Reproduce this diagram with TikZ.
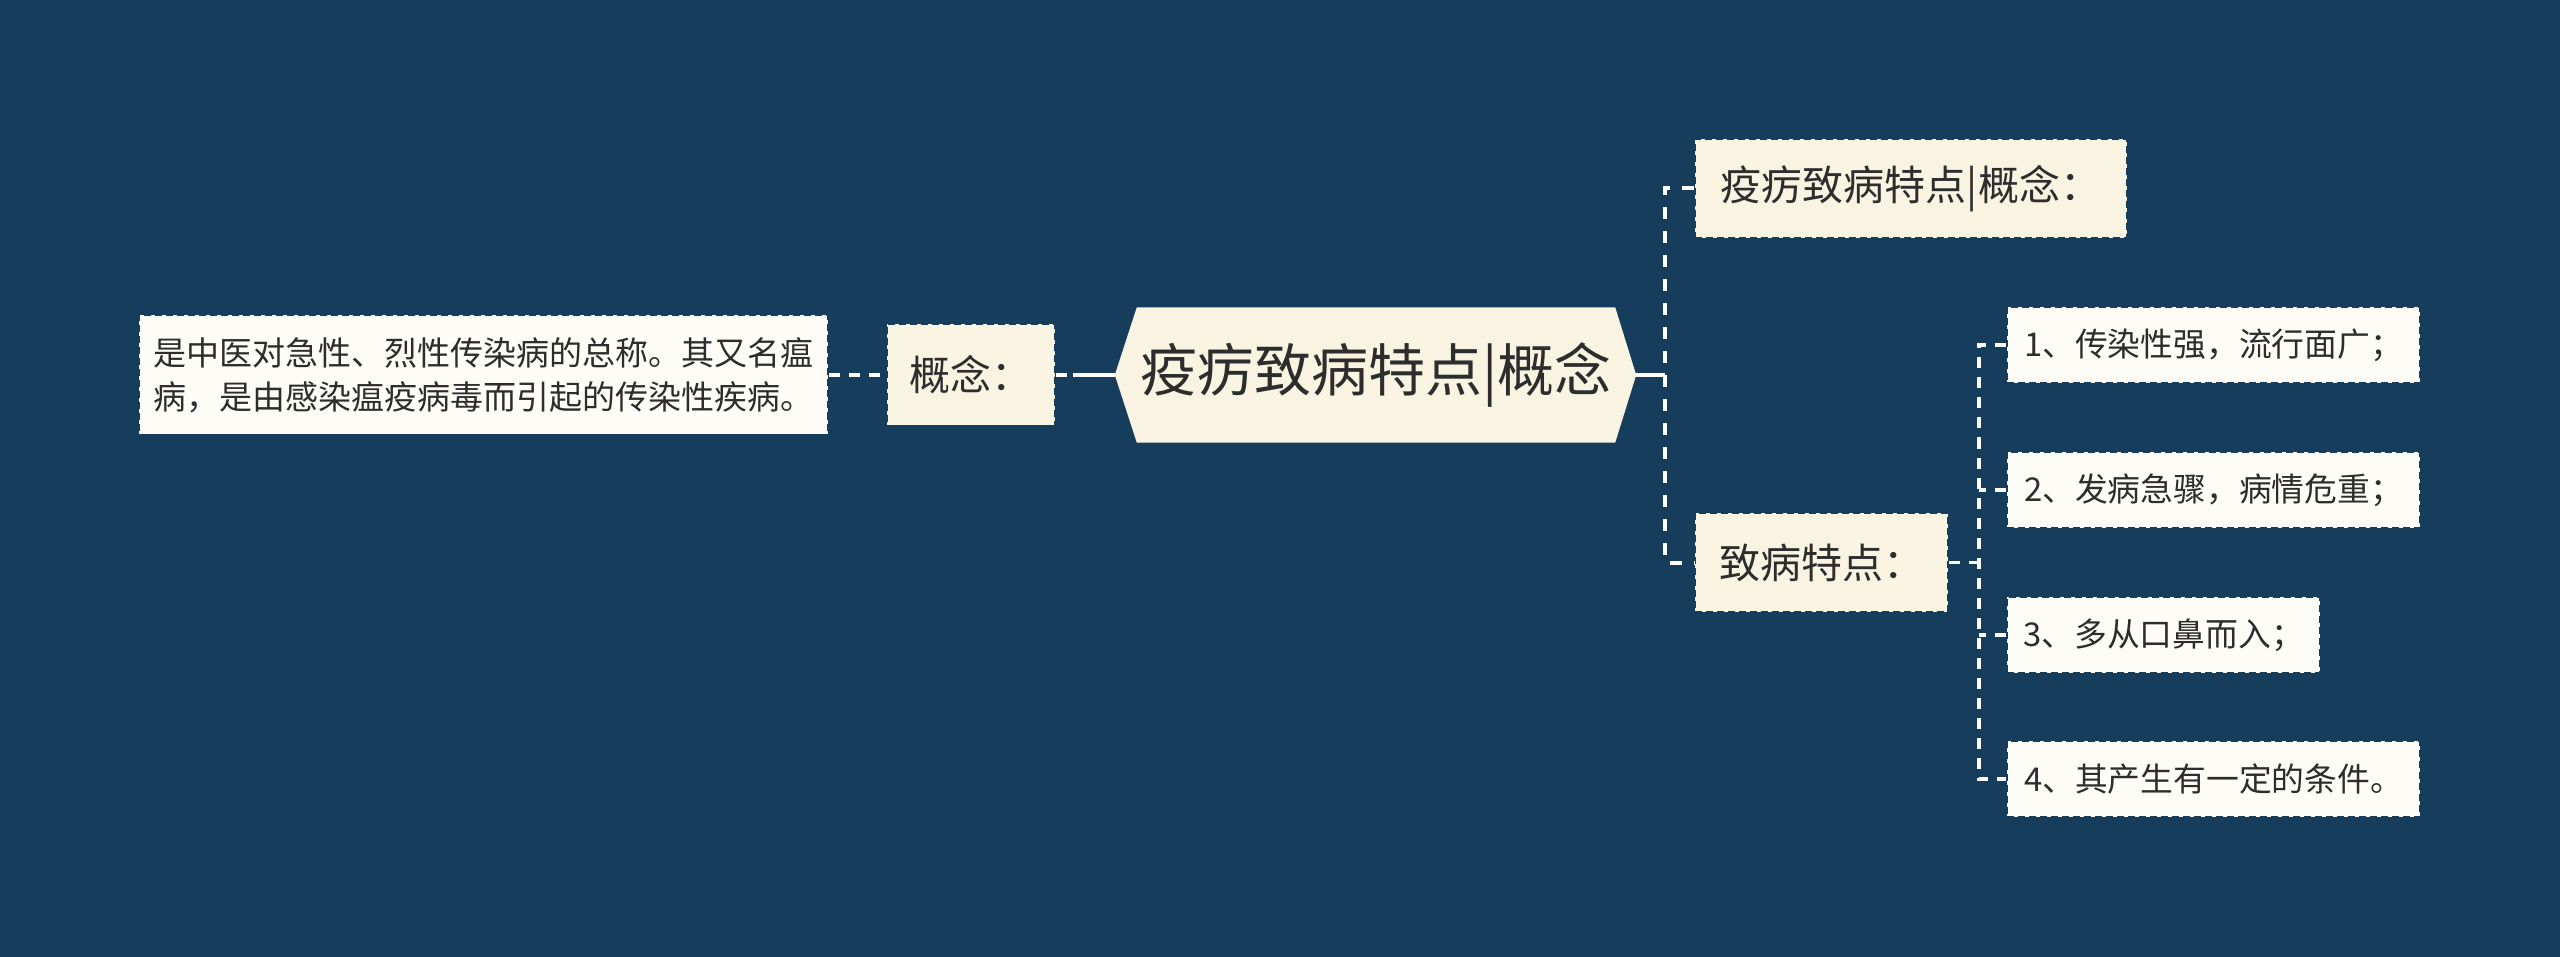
\documentclass[tikz,border=0pt]{standalone}
\usepackage{fontspec}
\newfontfamily\cjk{Noto Sans CJK SC}
\usetikzlibrary{calc,backgrounds}
\definecolor{bg}{RGB}{23,61,93}
\definecolor{cream}{RGB}{249,244,225}
\definecolor{paper}{RGB}{253,252,246}
\definecolor{ink}{RGB}{45,45,45}
\tikzset{
  box/.style={rectangle, inner sep=0pt, draw=bg, line width=1.5pt, dash pattern=on 7pt off 4pt, text=ink},
  lvlone/.style={box, fill=cream, minimum height=99pt, font=\cjk\fontsize{41}{44}\selectfont},
  itembox/.style={box, fill=paper, minimum height=76pt, font=\cjk\fontsize{32.8}{44}\selectfont},
  link/.style={draw=white, line width=3.5pt, dash pattern=on 11pt off 9pt},
  trunk/.style={draw=white, line width=4pt},
}
\begin{document}
\begin{tikzpicture}[x=1pt,y=-1pt]
\begin{scope}[on background layer]
  \fill[bg] (0,0) rectangle (2560,957);
\end{scope}
\useasboundingbox (0,0) rectangle (2560,957);

% root
\node[rectangle, minimum width=478pt, minimum height=135pt, inner sep=0pt, text=ink,
      font=\cjk\fontsize{57}{60}\selectfont] (root) at (1376,375) {疫疠致病特点|概念};
\coordinate (hexL) at ($(root.west)+(-22,0)$);
\coordinate (hexR) at ($(root.east)+(21,0)$);
\begin{scope}[on background layer]
  \fill[cream] (root.north west) -- (root.north east) -- (hexR) -- (root.south east)
     -- (root.south west) -- (hexL) -- cycle;
\end{scope}

% left side
\node[lvlone, minimum width=168pt, minimum height=101pt] (c1) at (971,375) {概念：};
\node[box, fill=paper, minimum width=689pt, minimum height=119pt, align=left,
      font=\cjk\fontsize{33}{44}\selectfont] (leaf) at (483.5,375)
      {是中医对急性、烈性传染病的总称。其又名瘟\\病，是由感染瘟疫病毒而引起的传染性疾病。};

% right side level one
\node[lvlone, minimum width=432pt] (b1) at (1911,188.5) {疫疠致病特点|概念：};
\node[lvlone, minimum width=253pt] (b2) at (1821.5,562.5) {致病特点：};

% items
\node[itembox, minimum width=413pt] (i1) at (2213.5,345) {1、传染性强，流行面广；};
\node[itembox, minimum width=413pt] (i2) at (2213.5,490) {2、发病急骤，病情危重；};
\node[itembox, minimum width=313pt] (i3) at (2163.5,635) {3、多从口鼻而入；};
\node[itembox, minimum width=413pt] (i4) at (2213.5,779) {4、其产生有一定的条件。};

% connectors
\coordinate (j0) at ($(hexL)+(-42,0)$);
\draw[trunk] (hexL) -- (j0);
\draw[link] (c1.east) -- (j0);
\draw[link] (leaf.east) -- (c1.west);

\coordinate (j1) at ($(hexR)+(29,0)$);
\draw[trunk] (hexR) -- (j1);
\draw[trunk, dash pattern=on 12pt off 12pt] (b1.west) -| (j1) |- (b2.west);

\coordinate (j2) at ($(b2.east)+(30,0)$);
\draw[link] (b2.east) -- (j2);
\draw[link] (i1.west) -| (j2) |- (i4.west);
\draw[link] (i2.west) -- (i2.west -| j2);
\draw[link] (i3.west) -- (i3.west -| j2);
\end{tikzpicture}
\end{document}
